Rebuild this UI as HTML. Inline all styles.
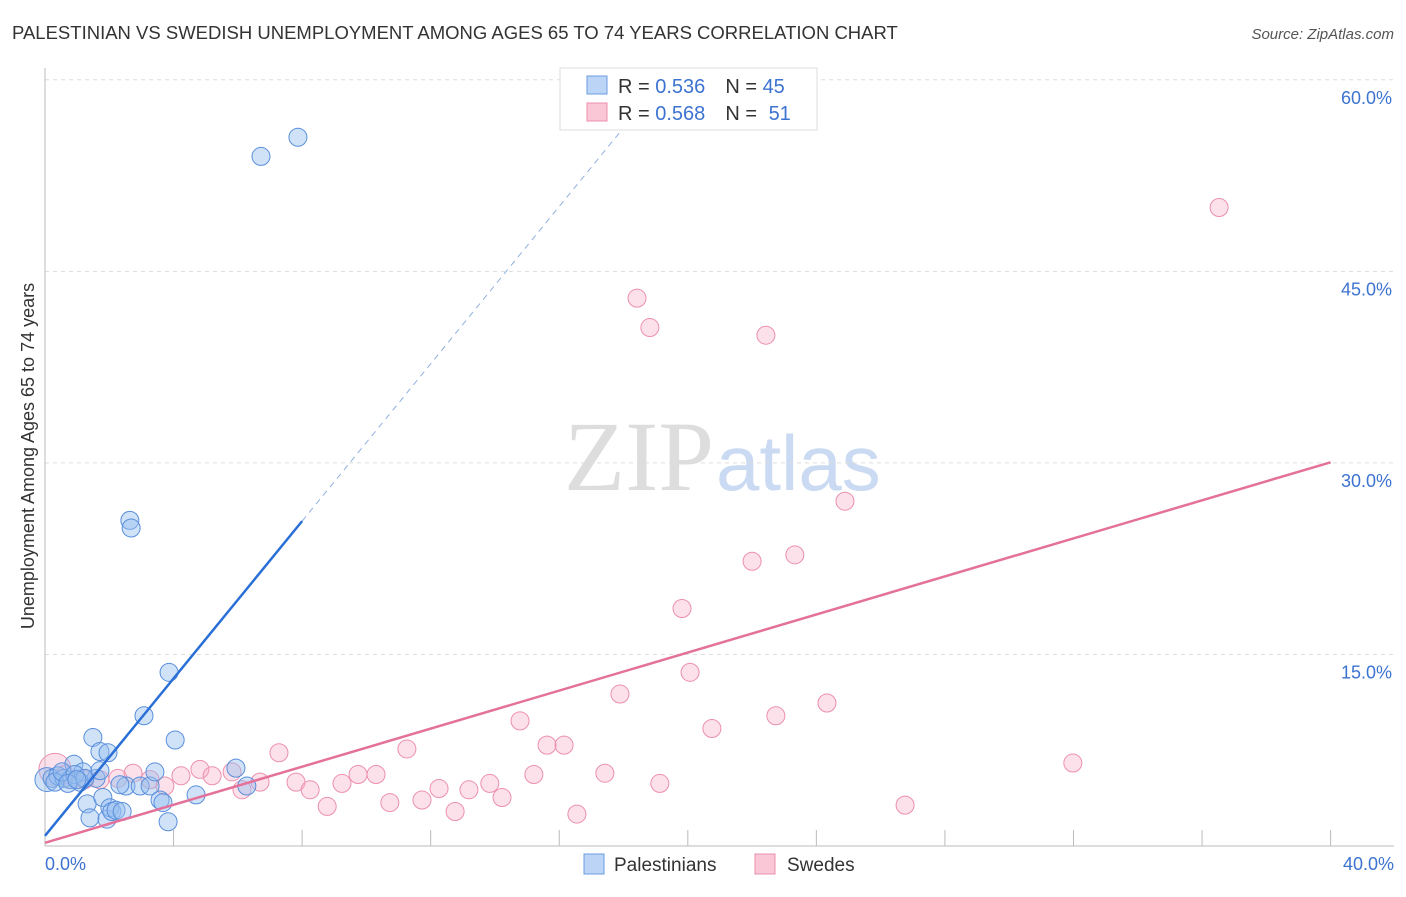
<!DOCTYPE html>
<html><head><meta charset="utf-8"><style>
body{margin:0;background:#fff;font-family:"Liberation Sans",sans-serif;}
</style></head><body>
<svg width="1406" height="892" xmlns="http://www.w3.org/2000/svg">
<text x="12" y="39" font-size="18.5" fill="#333">PALESTINIAN VS SWEDISH UNEMPLOYMENT AMONG AGES 65 TO 74 YEARS CORRELATION CHART</text>
<text x="1394" y="39" font-size="15" fill="#555" font-style="italic" text-anchor="end">Source: ZipAtlas.com</text>
<text x="714" y="490" font-size="100" fill="#ddd" text-anchor="end" font-family="Liberation Serif,serif">ZIP</text>
<text x="716" y="490" font-size="78" fill="#c9daf2">atlas</text>
<g id="grid"></g>
<g id="axes"></g>
<g id="pts"></g>
<g id="lines"></g>
<text transform="translate(34,456) rotate(-90)" font-size="18" fill="#333" text-anchor="middle">Unemployment Among Ages 65 to 74 years</text>
<text x="45" y="870" font-size="18" fill="#3d73d0">0.0%</text>
<text x="1394" y="870" font-size="18" fill="#3d73d0" text-anchor="end">40.0%</text>
<g>
<rect x="560" y="68" width="257" height="62" fill="#fff" stroke="#ddd"/>
<rect x="587" y="76" width="20" height="18" fill="#bcd4f5" stroke="#6a9be0"/>
<rect x="587" y="103" width="20" height="18" fill="#f9c7d6" stroke="#ec8fab"/>
<text x="618" y="93" font-size="20" fill="#333">R = <tspan fill="#3d73d0">0.536</tspan><tspan dx="20">N = </tspan><tspan fill="#3d73d0">45</tspan></text>
<text x="618" y="120" font-size="20" fill="#333">R = <tspan fill="#3d73d0">0.568</tspan><tspan dx="20">N = </tspan><tspan fill="#3d73d0" dx="6">51</tspan></text>
</g>
<g>
<rect x="584" y="854" width="20" height="20" fill="#bcd4f5" stroke="#6a9be0"/>
<text x="614" y="871" font-size="19" fill="#333">Palestinians</text>
<rect x="755" y="854" width="20" height="20" fill="#f9c7d6" stroke="#ec8fab"/>
<text x="787" y="871" font-size="19" fill="#333">Swedes</text>
</g>
</svg>
<script>
const yTicks=[15,30,45,60];
const xTicks=[4,8,12,16,20,24,28,32,36,40];
const blueX=[0.06,0.22,0.40,0.59,0.78,0.90,1.09,1.18,1.31,1.40,1.49,1.59,1.71,1.80,1.93,1.96,2.02,2.08,2.21,2.40,2.52,2.64,2.68,2.96,3.27,3.42,3.58,3.67,3.83,3.86,4.05,4.70,5.94,6.28,6.72,7.87,3.08,2.33,0.31,0.53,0.93,1.24,0.71,0.99,1.71];
const blueY=[5.2,5.3,5.5,5.3,5.2,6.4,5.0,5.8,3.3,2.2,8.5,5.3,7.4,3.8,2.1,7.3,3.0,2.7,2.8,2.7,4.7,25.5,24.9,4.7,4.7,5.8,3.6,3.4,1.9,13.6,8.3,4.0,6.1,4.7,54.0,55.5,10.2,4.8,5.0,5.8,5.6,5.3,4.9,5.2,5.9];
const pinkX=[0.31,0.62,0.84,1.24,1.71,2.27,2.74,3.27,3.73,4.23,4.82,5.20,5.82,6.13,6.69,7.28,7.81,8.25,8.78,9.24,9.74,10.30,10.73,11.26,11.73,12.26,12.76,13.19,13.84,14.22,14.78,15.21,15.62,16.15,16.55,17.42,17.89,18.42,18.82,19.13,19.82,20.07,20.75,22.00,22.43,22.74,23.33,24.33,24.89,26.76,31.98,36.53];
const pinkY=[6.0,5.6,5.2,5.2,5.2,5.3,5.7,5.2,4.7,5.5,6.0,5.5,5.8,4.4,5.0,7.3,5.0,4.4,3.1,4.9,5.6,5.6,3.4,7.6,3.6,4.5,2.7,4.4,4.9,3.8,9.8,5.6,7.9,7.9,2.5,5.7,11.9,42.9,40.6,4.9,18.6,13.6,9.2,22.3,40.0,10.2,22.8,11.2,27.0,3.2,6.5,50.0];
const X=v=>45+v*32.14, Y=v=>846-v*12.77;
const NS="http://www.w3.org/2000/svg";
function mk(p,t,a){const e=document.createElementNS(NS,t);for(const k in a)e.setAttribute(k,a[k]);document.getElementById(p).appendChild(e);return e;}
yTicks.forEach(t=>{
 const l=mk('grid','line',{x1:45,x2:1394,y1:Y(t),y2:Y(t),stroke:'#ddd','stroke-dasharray':'4,4'});
 
 
 const tx=mk('grid','text',{x:1392,y:Y(t)+24,'font-size':18,fill:'#3d73d0','text-anchor':'end'});
 tx.textContent=t.toFixed(1)+'%';
 
 
});
const ax=mk('axes','line',{x1:45,x2:1394,y1:846,y2:846,stroke:'#bbb'});


const ay=mk('axes','line',{x1:45,x2:45,y1:68,y2:846,stroke:'#bbb'});


xTicks.forEach(t=>{const l=mk('axes','line',{x1:X(t),x2:X(t),y1:830,y2:846,stroke:'#bbb'});
 
 });
pinkX.forEach((x,i)=>{const r=i==0?16:9;const c=mk('pts','circle',{cx:X(x),cy:Y(pinkY[i]),r:r,fill:'rgba(246,170,195,0.35)',stroke:'#ec90ad','stroke-width':1});
 
 });
blueX.forEach((x,i)=>{const c=mk('pts','circle',{cx:X(x),cy:Y(blueY[i]),r:i==0?12:9,fill:'rgba(150,190,240,0.45)',stroke:'#5a8fdc','stroke-width':1});
 
 });
const b0=0.8,b1=3.08,p0=0.25,p1=0.745;
const bl=mk('lines','line',{x1:X(0),y1:Y(b0),x2:X(8),y2:Y(b0+8*b1),stroke:'#2a6fd6','stroke-width':2.5});


const bd=mk('lines','line',{x1:X(8),y1:Y(b0+8*b1),x2:X(18.6),y2:Y(b0+18.6*b1),stroke:'#8fb0e0','stroke-width':1,'stroke-dasharray':'6,5'});


const pl=mk('lines','line',{x1:X(0),y1:Y(p0),x2:X(40),y2:Y(p0+40*p1),stroke:'#e4719a','stroke-width':2.5});


</script>
</body></html>
